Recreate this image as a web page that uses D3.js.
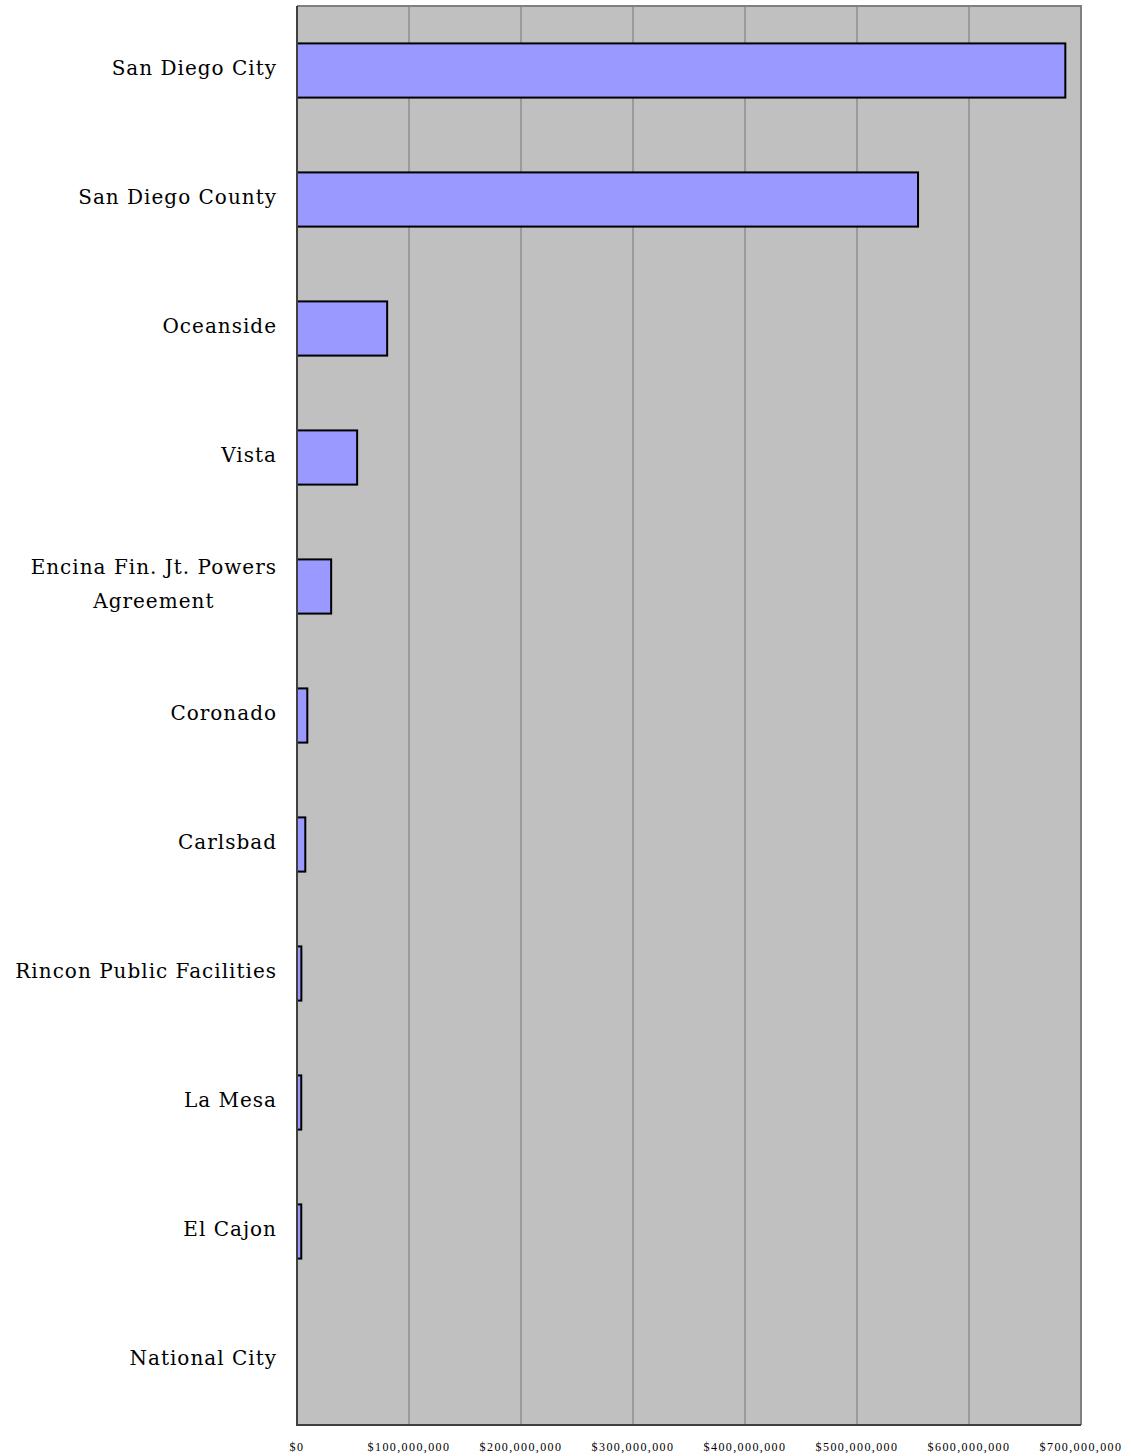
<!DOCTYPE html>
<html><head><meta charset="utf-8">
<script src="https://cdn.jsdelivr.net/npm/d3@7"></script>
<style>body{margin:0;background:#fff}</style>
</head><body>
<svg id="c" width="1131" height="1456"></svg>
<script>
const categories = [["San Diego City"],["San Diego County"],["Oceanside"],["Vista"],["Encina Fin. Jt. Powers","Agreement"],["Coronado"],["Carlsbad"],["Rincon Public Facilities"],["La Mesa"],["El Cajon"],["National City"]];
const values = [686000000, 554500000, 80500000, 53700000, 30500000, 9200000, 7400000, 3900000, 3800000, 3800000, 0];
const tickValues = [0,100000000,200000000,300000000,400000000,500000000,600000000,700000000];

const svg = d3.select("#c");
const L=297, R=1081, T=6, B=1425;
const x = d3.scaleLinear().domain([0,700000000]).range([L,R]);
const keys = categories.map((d,i)=>i);
const y = d3.scaleBand().domain(keys).range([T,B]).paddingInner(0.58).paddingOuter(0.29);

svg.append("rect").attr("x",L).attr("y",T).attr("width",R-L).attr("height",B-T).attr("fill","#C0C0C0");
svg.append("g").selectAll("line").data(tickValues.slice(1)).join("line")
  .attr("x1",d=>x(d)).attr("x2",d=>x(d)).attr("y1",T).attr("y2",B)
  .attr("stroke","#808080").attr("stroke-width",1.2);
svg.append("path").attr("d",`M${L},${T}H${R}V${B}`).attr("fill","none").attr("stroke","#808080").attr("stroke-width",2);

svg.append("g").selectAll("rect").data(values).join("rect")
  .attr("x",x(0)).attr("y",(d,i)=>y(i)).attr("height",y.bandwidth())
  .attr("width",d=>Math.max(0,x(d)-x(0))).attr("fill","#9999FF").attr("stroke","#000").attr("stroke-width",2)
  .attr("display",d=>d>0?null:"none");

svg.append("path").attr("d",`M${L},${T}V${B}H${R}`).attr("fill","none").attr("stroke","#404040").attr("stroke-width",2);

const lab = svg.append("g").attr("font-family","'DejaVu Serif', serif").attr("font-size",20).attr("fill","#000").attr("letter-spacing","1px");
categories.forEach((lines,i)=>{
  const cy = y(i)+y.bandwidth()/2 - 3;
  const n = lines.length, lh=34;
  const t = lab.append("text").attr("y", cy - (n-1)*lh/2);
  if(n===1){ t.attr("x",277).attr("dy","0.35em").attr("text-anchor","end").text(lines[0]); }
  else {
    const tmp = lab.append("text"); const w = Math.max(...lines.map(s=>{tmp.text(s);return tmp.node().getComputedTextLength();})); tmp.remove();
    const cx = 277 - w/2;
    lines.forEach((s,j)=>{ t.append("tspan").attr("x",cx).attr("text-anchor","middle").attr("dy", j===0?"0.35em":lh).text(s); });
  }
});

const fmt = d=>"$"+d3.format(",")(d);
svg.append("g").attr("font-family","'Liberation Serif', serif").attr("font-size",12).attr("letter-spacing","1.4px").attr("fill","#000")
  .selectAll("text").data(tickValues).join("text")
  .attr("x",d=>x(d)).attr("y",1451).attr("text-anchor","middle").text(fmt);
</script>
</body></html>
